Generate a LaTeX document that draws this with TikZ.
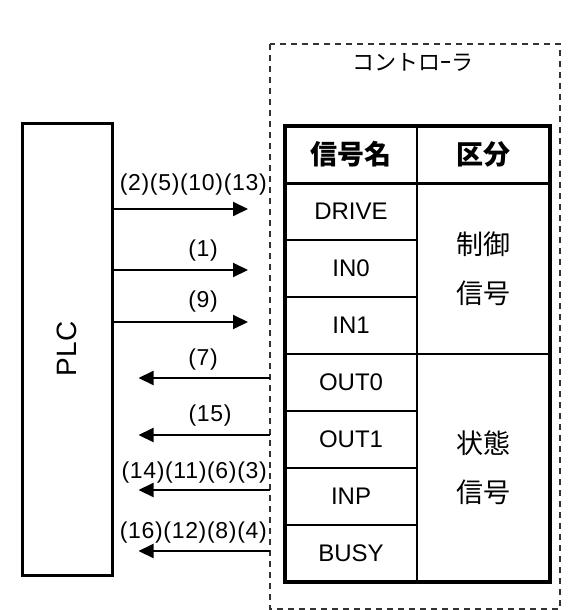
\documentclass[tikz,border=0pt]{standalone}
\usepackage{fontspec}
\setmainfont{Liberation Sans}
\newfontfamily\jpfont{Noto Sans CJK JP}
\usetikzlibrary{arrows.meta,positioning}

\begin{document}
\begin{tikzpicture}[x=1pt,y=-1pt,
  signame/.style={font=\fontsize{24}{24}\selectfont},
  numlabel/.style={font=\fontsize{23}{23}\selectfont\addfontfeature{LetterSpace=3}, inner sep=0pt},
  jptext/.style={font=\jpfont\fontsize{27}{49}\selectfont, align=center},
  sigarrow/.style={line width=2pt, -{Triangle[length=15pt,width=14pt]}},
  thinrule/.style={line width=2pt},
]
\useasboundingbox (0,0) rectangle (578,610);

% Controller (dashed frame)
\draw[dash pattern=on 6pt off 5pt, line width=1.4pt, black!80] (270,44) rectangle (560,609);
\node[font=\jpfont\fontsize{22}{22}\selectfont] (ctrl) at (413,62) {コントロｰラ};

% PLC
\node[draw, line width=3pt, minimum width=90pt, minimum height=452pt, inner sep=0pt,
  font=\fontsize{28}{28}\selectfont] (plc) at (67,349) {\rotatebox{90}{PLC}};

% Signal table
\draw[line width=3.5pt] (285,126) rectangle (550,582);
\draw[line width=3pt] (285,183) -- (550,183);
\draw[thinrule] (417,126) -- (417,582);
\foreach \y in {240,297,411,468,525}
  \draw[thinrule] (285,\y) -- (417,\y);
\draw[thinrule] (285,354) -- (550,354);

% Headers
\node[jptext, font=\jpfont\bfseries\fontsize{27}{27}\selectfont] (hname) at (351,154.5) {信号名};
\node[jptext, font=\jpfont\bfseries\fontsize{27}{27}\selectfont] (hkind) at (483.5,154.5) {区分};

% Signal names
\foreach \sname [count=\i] in {DRIVE,IN0,IN1,OUT0,OUT1,INP,BUSY}
  \node[signame] (row\i) at (351,{183+57*\i-28.5}) {\sname};

% Groups
\node[jptext] (ctlsig) at (483.5,268.5) {制御\\信号};
\node[jptext] (stsig) at (483.5,468) {状態\\信号};

% Arrows PLC -> controller
\coordinate (in1) at (248,209);
\coordinate (in2) at (248,270);
\coordinate (in3) at (248,322);
\foreach \c in {in1,in2,in3}
  \draw[sigarrow] (plc.east |- \c) -- (\c);

% Arrows controller -> PLC
\coordinate (out1) at (270,378);
\coordinate (out2) at (270,435);
\coordinate (out3) at (270,490);
\coordinate (out4) at (270,551);
\foreach \c in {out1,out2,out3,out4}
  \draw[sigarrow] (\c) -- ([xshift=25pt]plc.east |- \c);

% Step numbers
\node[numlabel, anchor=east] (n1) at (267,185) {(2)(5)(10)(13)};
\node[numlabel] (n2) at (203,251) {(1)};
\node[numlabel] (n3) at (203,302) {(9)};
\node[numlabel] (n4) at (203,360) {(7)};
\node[numlabel] (n5) at (210,416) {(15)};
\node[numlabel, anchor=east] (n6) at (267,473) {(14)(11)(6)(3)};
\node[numlabel, anchor=east] (n7) at (267,533) {(16)(12)(8)(4)};
\end{tikzpicture}
\end{document}
